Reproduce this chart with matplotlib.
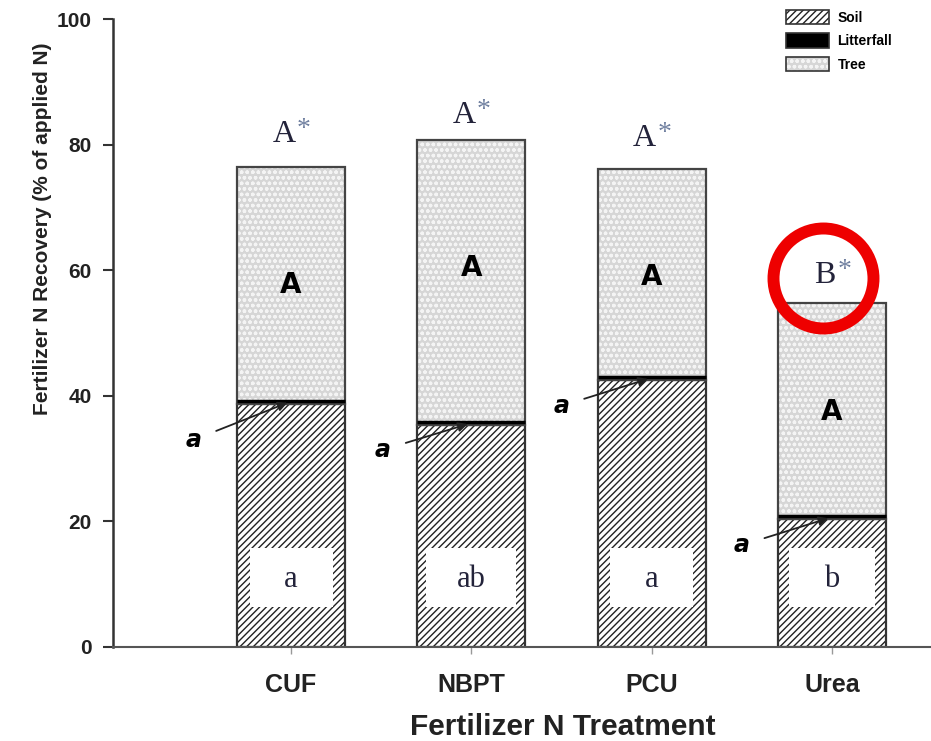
import matplotlib.pyplot as plt
import numpy as np
from matplotlib.patches import Patch

treatments = ["CUF", "NBPT", "PCU", "Urea"]
soil = [38.7, 35.3, 42.5, 20.3]
litterfall = [0.5, 0.5, 0.5, 0.5]
tree = [37.3, 44.9, 33.1, 34.0]

total_letters = ["A", "A", "A", "B"]
tree_letters = ["A", "A", "A", "A"]
litter_letters = ["a", "a", "a", "a"]
soil_letters = ["a", "ab", "a", "b"]

# where the letters sit (data units)
total_letter_y = [81.6, 84.6, 81.0, 59.2]
tree_letter_y = [57.6, 60.3, 58.9, 37.4]
litter_text_xy = [(-0.54, 33.0), (0.51, 31.4), (1.5, 38.4), (2.5, 16.2)]
soil_letter_y = 10.8
# white boxes behind the soil letters
box_bottom = 6.3
box_height = 9.5
box_width = [0.46, 0.5, 0.46, 0.48]

plt.rcParams['font.family'] = ['Liberation Sans', 'DejaVu Sans']

fig = plt.figure(figsize=(9.31, 7.41), dpi=100)
ax = fig.add_axes([0.121, 0.127, 0.879, 0.847])

x = np.arange(len(treatments))
w = 0.6
soil = np.array(soil)
litterfall = np.array(litterfall)
tree = np.array(tree)
bottom_tree = soil + litterfall

soil_style = dict(facecolor="white", edgecolor="#222222", hatch="/////", linewidth=0)
litter_style = dict(facecolor="black", edgecolor="black", linewidth=0)
tree_style = dict(facecolor="#d6d6d6", edgecolor="#f4f4f4", hatch="ooo", linewidth=0)

ax.bar(x, soil, w, **soil_style)
ax.bar(x, litterfall, w, bottom=soil, **litter_style)
ax.bar(x, tree, w, bottom=bottom_tree, **tree_style)
# white boxes for the soil letters
ax.bar(x, box_height, box_width, bottom=box_bottom, color="white", linewidth=0)
# outlines
ax.bar(x, soil, w, fill=False, edgecolor="#333333", linewidth=1.6)
ax.bar(x, tree + litterfall, w, bottom=soil, fill=False, edgecolor="#444444", linewidth=1.6)
ax.hlines(bottom_tree, x - w / 2, x + w / 2, color="black", linewidth=2.5)

for i in range(len(x)):
    ax.text(x[i] - 0.04, total_letter_y[i], total_letters[i], family="Liberation Serif",
            fontsize=23, ha="center", va="center", color="#23233a")
    ax.text(x[i] + 0.07, total_letter_y[i] + 0.8, "*", family="Liberation Serif",
            fontsize=20, ha="center", va="center", color="#7080a0")
    ax.text(x[i], tree_letter_y[i], tree_letters[i], fontsize=20, fontweight="heavy",
            family="DejaVu Sans", ha="center", va="center", color="black")
    ax.text(x[i], soil_letter_y, soil_letters[i], family="Liberation Serif", fontsize=22,
            ha="center", va="center", color="#23233a")
    ax.annotate(litter_letters[i], xy=(x[i] - 0.02, bottom_tree[i] - 0.3), xytext=litter_text_xy[i],
                fontsize=17, fontweight="bold", style="italic", family="DejaVu Sans",
                ha="center", va="center",
                arrowprops=dict(arrowstyle="-|>", color="#222222", lw=1.3, mutation_scale=14,
                                shrinkA=9, shrinkB=0))

# highlight circle around the Urea total letter
ax.plot(x[3] - 0.05, 58.8, "o", ms=72, mfc="none", mec="#ee0000", mew=8.6, clip_on=False)

ax.set_xlim(-0.99, 3.55)
ax.set_ylim(0, 100)
ax.set_xticks(x)
ax.set_xticklabels(treatments, fontsize=18, fontweight="bold", color="#222222")
ax.set_yticks([0, 20, 40, 60, 80, 100])
ax.tick_params(axis="y", labelsize=15, length=7, width=1.5, color="#333333", labelcolor="#222222",
               pad=8)
for t in ax.get_yticklabels():
    t.set_fontweight("bold")
ax.tick_params(axis="x", length=5, width=1, color="#999999", pad=13.5)
ax.spines["top"].set_visible(False)
ax.spines["right"].set_visible(False)
ax.spines["left"].set_linewidth(1.8)
ax.spines["left"].set_color("#333333")
ax.spines["bottom"].set_linewidth(1.5)
ax.spines["bottom"].set_color("#555555")

ax.set_xlabel("Fertilizer N Treatment", fontsize=21.5, fontweight="bold", color="#222222")
ax.xaxis.set_label_coords(0.55, -0.106)
ax.set_ylabel("Fertilizer N Recovery (% of applied N)", fontsize=15, fontweight="bold",
              color="#222222")
ax.yaxis.set_label_coords(-0.074, 0.667)

# legend: fill patch with a dark outline drawn over it
outline = dict(fill=False, edgecolor="#333333", linewidth=1.2)
handles = [(Patch(**soil_style), Patch(**outline)),
           (Patch(**litter_style), Patch(**outline)),
           (Patch(**tree_style), Patch(**outline))]
fig.legend(handles, ["Soil", "Litterfall", "Tree"], loc="upper left",
           bbox_to_anchor=(786 / 931, 1 - 10 / 741), frameon=False,
           prop={"weight": "bold", "size": 10}, borderpad=0, borderaxespad=0,
           handlelength=3.1, handleheight=1.2, labelspacing=0.62, handletextpad=0.6)

fig.savefig("out.png", dpi=100)
